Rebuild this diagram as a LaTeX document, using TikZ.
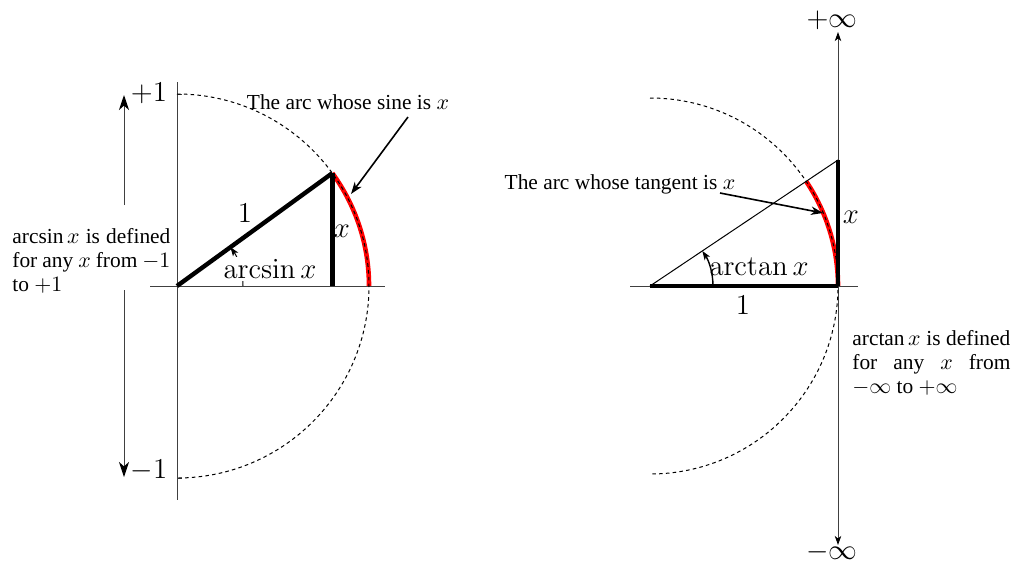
\documentclass[tikz,border=0pt]{standalone}
\usepackage[no-math]{fontspec}
\setmainfont{Liberation Serif}
\usetikzlibrary{arrows.meta,calc}
\begin{document}
\begin{tikzpicture}[x=0.5pt,y=0.5pt,
  axis/.style={line width=0.5pt,black!75},
  thin line/.style={line width=0.5pt,black},
  dash circ/.style={line width=0.5pt,black,dash pattern=on 1.8pt off 1.6pt},
  heavy/.style={line width=2.2pt,black},
  redarc/.style={line width=2.3pt,red},
  bigtip/.style={-{Stealth[length=7.5pt,width=5pt,inset=2.2pt,color=black]}},
  smalltip/.style={-{Stealth[length=4.5pt,width=3.2pt,inset=1.2pt,color=black]}},
  pointer/.style={line width=0.8pt,-{Stealth[length=6pt,width=4.2pt,inset=1.8pt]}},
  lbl/.style={font=\fontsize{13.4}{15}\selectfont,inner sep=1pt},
  endlbl/.style={font=\fontsize{14.4}{17}\selectfont,inner sep=0pt},
  txt/.style={font=\fontsize{10.7}{12}\selectfont,inner sep=0pt,align=left}]
\useasboundingbox (0,0) rectangle (1013,-563);

% ---------- left diagram ----------
\coordinate (O) at (177,-286);
\coordinate (P) at ($(O)+(36:192)$);
\coordinate (F) at (P |- O);
\coordinate (Ltop) at (177,-94);
\coordinate (Lbot) at (177,-478);
\draw[axis] (150,-286) -- (385,-286);
\draw[axis] (177,-82) -- (177,-500);
\draw[axis] (Ltop) -- ++(5,0);
\draw[axis] (Lbot) -- ++(5,0);
\draw[redarc] (P) arc[start angle=36,end angle=0,radius=192];
\draw[dash circ] (Ltop) arc[start angle=90,end angle=-90,radius=192];
\draw[heavy] (O) -- (P);
\draw[heavy] (P) -- (F);
\draw[thin line,smalltip] ($(O)+(0:66)$) arc[start angle=0,end angle=36,radius=66];
\node[lbl,fill=white] (asin) at (270,-269) {$\arcsin x$};
\node[lbl] (one1) at (245,-213) {$1$};
\node[lbl] (x1) at (342,-231) {$x$};
\node[endlbl] (p1) at (149,-93) {$+1$};
\node[endlbl] (m1) at (149,-470) {$-1$};
\coordinate (la1) at (124,-205);
\coordinate (la2) at (124,-95);
\coordinate (la3) at (124,-290);
\coordinate (la4) at (124,-477);
\draw[axis,bigtip] (la1) -- (la2);
\draw[axis,bigtip] (la3) -- (la4);
\node[txt,anchor=base west] (ltext) at (12,-243)
  {\parbox[t]{79pt}{arcsin\,$x$ is defined\linebreak for any $x$ from $-1$\linebreak to $+1$}};
\node[txt] (sinelbl) at (348,-102) {The arc whose sine is $x$};
\coordinate (sinetip) at (351,-194);
\draw[pointer] (408,-117) -- (sinetip);

% ---------- right diagram ----------
\coordinate (C) at (650,-286);
\coordinate (E) at (838,-286);
\coordinate (T) at (838,-160);
\coordinate (A) at ($(C)+(33.8:188)$);
\coordinate (Rtop) at (650,-98);
\draw[axis] (630,-286) -- (858,-286);
\coordinate (ptip) at (838,-32);
\coordinate (mtip) at (838,-545);
\draw[axis,smalltip] (E) -- (ptip);
\draw[axis,smalltip] (E) -- (mtip);
\draw[redarc] (A) arc[start angle=33.8,end angle=0,radius=188];
\draw[dash circ] (Rtop) arc[start angle=90,end angle=-90,radius=188];
\draw[thin line] (C) -- (T);
\draw[heavy] (E) -- (T);
\draw[heavy] (C) -- (E);
\draw[line width=0.7pt,smalltip] ($(C)+(0:63)$) arc[start angle=0,end angle=33.8,radius=63];
\node[lbl] (atan) at (759,-267) {$\arctan x$};
\node[lbl] (one2) at (743,-305) {$1$};
\node[lbl] (x2) at (851,-217) {$x$};
\node[endlbl] (pinf) at (832,-20) {$+\infty$};
\node[endlbl] (minf) at (832,-552) {$-\infty$};
\node[txt] (tanlbl) at (620,-184) {The arc whose tangent is $x$};
\coordinate (tantip) at (823,-213);
\draw[pointer] (720,-193) -- (tantip);
\node[txt,anchor=base west] (rtext) at (852,-345)
  {\parbox[t]{79pt}{arctan\,$x$ is defined\linebreak for any $x$ from\linebreak $-\infty$ to $+\infty$}};
\end{tikzpicture}
\end{document}
